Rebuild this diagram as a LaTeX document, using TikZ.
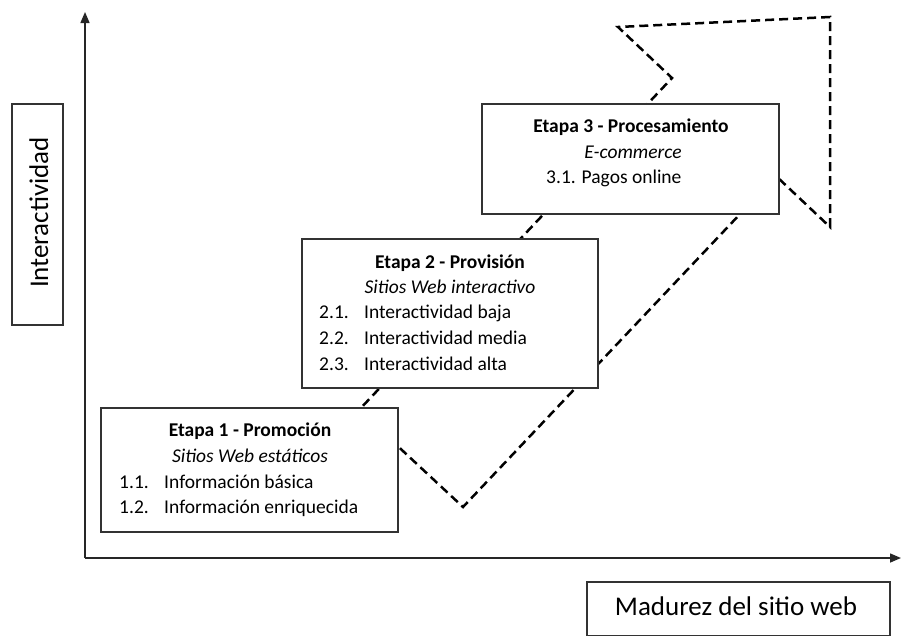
\documentclass[tikz,border=0pt]{standalone}
\usepackage{fontspec}
\setmainfont{Carlito}
\usetikzlibrary{arrows.meta}

\begin{document}
\begin{tikzpicture}[x=1pt,y=-1pt]
\tikzstyle{every node}+=[inner sep=0pt]
\tikzstyle{eje}=[black!85, line width=1.5pt, -{Triangle[length=11pt,width=9pt]}]
\tikzstyle{caja}=[draw=black!80, line width=1.4pt, fill=white]
\tikzstyle{tit}=[anchor=base, font=\fontsize{19.5}{22}\selectfont\bfseries]
\tikzstyle{sub}=[anchor=base, font=\fontsize{19.5}{22}\selectfont\itshape]
\tikzstyle{item}=[anchor=base west, font=\fontsize{19.5}{22}\selectfont]
\tikzstyle{rot}=[anchor=base, font=\fontsize{27}{30}\selectfont]
\useasboundingbox (0,0) rectangle (902,635);
\coordinate (O) at (85,558);
\coordinate (ytop) at (85,12);
\coordinate (xend) at (901,558);
\draw [eje] (O) -- (ytop);
\draw [eje] (O) -- (xend);
% flecha de etapas
\coordinate (a1) at (359,410);
\coordinate (a2) at (463,507);
\coordinate (a3) at (776,176);
\coordinate (a4) at (830,227);
\coordinate (a5) at (830,17);
\coordinate (a6) at (618,27);
\coordinate (a7) at (672,78);
\draw [black, line width=2.5pt, dash pattern=on 9pt off 5pt] (a1) -- (a2) -- (a3) -- (a4) -- (a5) -- (a6) -- (a7) -- cycle;
% etapa 1
\node [caja, minimum width=297pt, minimum height=124pt] (e1) at (249.5,470) {};
\node [tit] (e1t) at (250,436) {Etapa 1 - Promoción};
\node [sub] (e1s) at (250,462) {Sitios Web estáticos};
\node [item] (e1n1) at (119,488) {1.1.};
\node [item] (e1i1) at (164,488) {Información básica};
\node [item] (e1n2) at (119,513) {1.2.};
\node [item] (e1i2) at (164,513) {Información enriquecida};
% etapa 2
\node [caja, minimum width=296pt, minimum height=149pt] (e2) at (450,313.5) {};
\node [tit] (e2t) at (450,268) {Etapa 2 - Provisión};
\node [sub] (e2s) at (450,293) {Sitios Web interactivo};
\node [item] (e2n1) at (319,318) {2.1.};
\node [item] (e2i1) at (364,318) {Interactividad baja};
\node [item] (e2n2) at (319,344) {2.2.};
\node [item] (e2i2) at (364,344) {Interactividad media};
\node [item] (e2n3) at (319,370) {2.3.};
\node [item] (e2i3) at (364,370) {Interactividad alta};
% etapa 3
\node [caja, minimum width=297pt, minimum height=110pt] (e3) at (630.5,159) {};
\node [tit] (e3t) at (631,132) {Etapa 3 - Procesamiento};
\node [sub] (e3s) at (633,158) {E-commerce};
\node [item] (e3i1) at (546,183) {3.1. Pagos online};
% ejes: rotulos
\node [caja, minimum width=51pt, minimum height=221pt] (ylab) at (37.5,214.5) {};
\node [rot, rotate=90] (ylabt) at (48,212.5) {Interactividad};
\node [caja, minimum width=303pt, minimum height=54pt] (xlab) at (738.5,609) {};
\node [rot] (xlabt) at (736,615) {Madurez del sitio web};
\end{tikzpicture}
\end{document}
